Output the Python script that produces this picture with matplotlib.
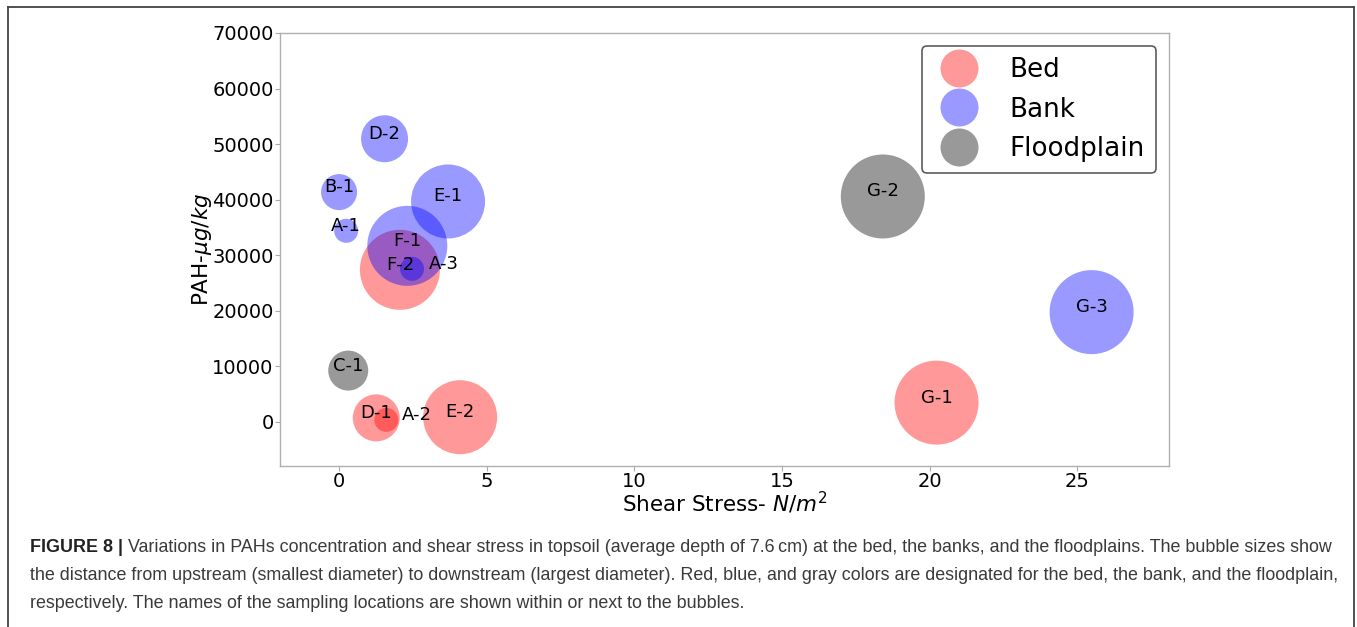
import matplotlib
matplotlib.use('Agg')
import matplotlib.pyplot as plt
from matplotlib.lines import Line2D
from matplotlib import font_manager

# Sampling sites: shear stress (N/m^2), PAH (ug/kg), bubble diameter (px, upstream -> downstream)
sites = ['A-1', 'A-2', 'A-3', 'B-1', 'C-1', 'D-1', 'D-2', 'E-1', 'E-2',
         'F-1', 'F-2', 'G-1', 'G-2', 'G-3']
zone = ['Bank', 'Bed', 'Bank', 'Bank', 'Floodplain', 'Bed', 'Bank', 'Bank', 'Bed',
        'Bank', 'Bed', 'Bed', 'Floodplain', 'Bank']
shear = [0.24, 1.6, 2.47, 0.0, 0.31, 1.26, 1.54, 3.69, 4.1,
         2.31, 2.06, 20.23, 18.41, 25.48]
pah = [34370, 310, 27520, 41340, 9190, 670, 50950, 39650, 790,
       31660, 27340, 3420, 40550, 19720]
bubble_px = [24, 24, 24, 36, 40, 47, 47, 74, 74, 80, 80, 84, 84, 84]

zones = ['Bed', 'Bank', 'Floodplain']
zone_colors = {'Bed': 'red', 'Bank': 'blue', 'Floodplain': 'black'}

# labels placed beside the bubble instead of on it
label_dx = {'A-2': 1.05, 'A-3': 1.08}

caption_bold = 'FIGURE 8 | '
caption_lines = [
    'Variations in PAHs concentration and shear stress in topsoil (average depth of 7.6\u2009cm) at the bed, the banks, and the floodplains. The bubble sizes show',
    'the distance from upstream (smallest diameter) to downstream (largest diameter). Red, blue, and gray colors are designated for the bed, the bank, and the floodplain,',
    'respectively. The names of the sampling locations are shown within or next to the bubbles.',
]

W, H, DPI = 1357, 627, 100
fig = plt.figure(figsize=(W / DPI, H / DPI), dpi=DPI)
fig.patch.set_facecolor('white')

ax = fig.add_axes([280 / W, 1 - 466 / H, (1169 - 280) / W, (466 - 33) / H])

pt = 72 / DPI
for z in zones:
    idx = [i for i, zz in enumerate(zone) if zz == z]
    ax.scatter([shear[i] for i in idx], [pah[i] for i in idx],
               s=[(bubble_px[i] * pt) ** 2 for i in idx],
               color=zone_colors[z], alpha=0.4, linewidths=0, zorder=2)

for i, name in enumerate(sites):
    ax.text(shear[i] + label_dx.get(name, 0), pah[i], name, ha='center',
            fontsize=13, color='black', zorder=3)

ax.set_xlim(-2.0, 28.1)
ax.set_ylim(-8000, 70000)
ax.set_xticks([0, 5, 10, 15, 20, 25])
ax.set_yticks(range(0, 70001, 10000))
ax.tick_params(labelsize=14, color='#aaaaaa', length=3.5, width=0.8, pad=1)
for sp in ax.spines.values():
    sp.set_color('#b0b0b0')
    sp.set_linewidth(1.0)
ax.set_xlabel('Shear Stress- $N/m^2$', fontsize=15.5, labelpad=-1)
ax.set_ylabel('PAH-$\\mu g/kg$', fontsize=15.5, labelpad=-1)

handles = [Line2D([], [], marker='o', linestyle='none', markersize=38 * pt,
                  markerfacecolor=zone_colors[z], markeredgewidth=0, alpha=0.4)
           for z in zones]
leg = ax.legend(handles, zones, loc='upper right', fontsize=18.8, frameon=True,
                labelspacing=0.52, handletextpad=0.95, borderpad=0.42,
                borderaxespad=0.5)
leg.get_frame().set_edgecolor('#333333')
leg.get_frame().set_linewidth(1.2)

# outer frame of the figure panel (open at the bottom)
fig.add_artist(Line2D([8 / W, 8 / W], [0, 1 - 7 / H], color='#444444', lw=1.3))
fig.add_artist(Line2D([8 / W, 1354 / W], [1 - 7 / H, 1 - 7 / H], color='#444444', lw=1.3))
fig.add_artist(Line2D([1354 / W, 1354 / W], [0, 1 - 7 / H], color='#444444', lw=1.3))

# caption
names = {f.name for f in font_manager.fontManager.ttflist}
cap_font = 'Liberation Sans Narrow' if 'Liberation Sans Narrow' in names else 'Liberation Sans'
renderer = fig.canvas.get_renderer()
x0 = 30
ys = [548, 576, 603]
fs = 12.5
# fit the font size so the first line spans the same width as in the figure
probe_b = fig.text(0, 0, caption_bold, fontsize=fs, family=cap_font, fontweight='bold')
probe_r = fig.text(0, 0, caption_lines[0], fontsize=fs, family=cap_font)
wtot = probe_b.get_window_extent(renderer).width + probe_r.get_window_extent(renderer).width
probe_b.remove()
probe_r.remove()
fs = fs * (1338 - x0) / wtot

tb = fig.text(x0 / W, 1 - ys[0] / H, caption_bold, fontsize=fs, family=cap_font,
              fontweight='bold', color='#222222', va='center')
bw = tb.get_window_extent(renderer).width
fig.text((x0 + bw) / W, 1 - ys[0] / H, caption_lines[0], fontsize=fs, family=cap_font,
         color='#3a3a3a', va='center')
for line, y in zip(caption_lines[1:], ys[1:]):
    fig.text(x0 / W, 1 - y / H, line, fontsize=fs, family=cap_font,
             color='#3a3a3a', va='center')

fig.savefig('out.png', dpi=DPI, facecolor='white')
